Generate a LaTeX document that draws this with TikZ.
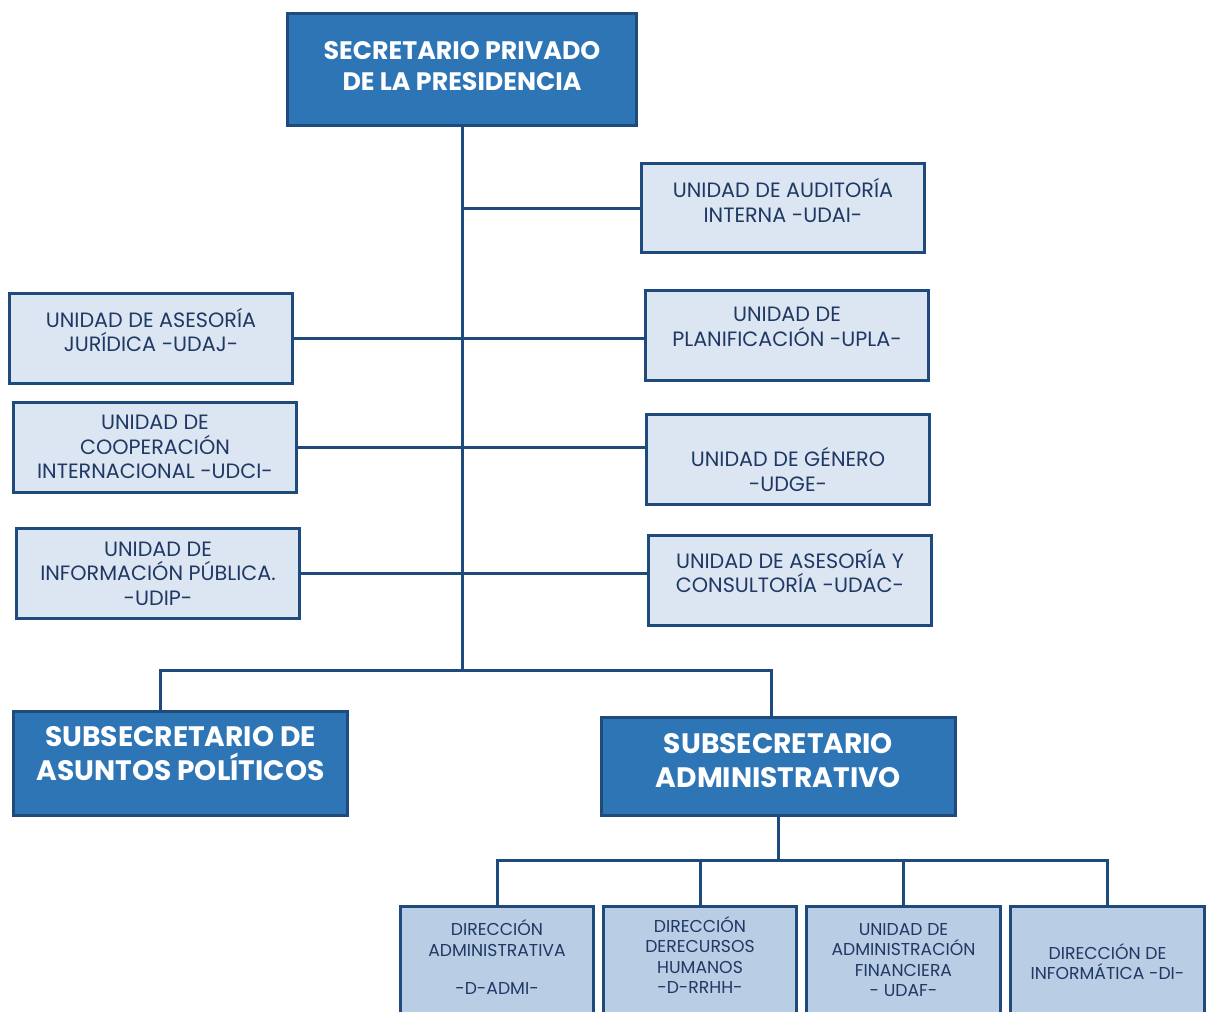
\documentclass[tikz,border=0pt]{standalone}
\usepackage{fontspec}
\setmainfont{Poppins}
\usepackage{xcolor}
\usepackage{tikz}

\definecolor{azulfuerte}{HTML}{2E75B6}
\definecolor{azulborde}{HTML}{1F4A7C}
\definecolor{azulclaro}{HTML}{DCE6F2}
\definecolor{azulmedio}{HTML}{B9CDE5}
\definecolor{textoazul}{HTML}{1F3864}

\tikzset{
	linea/.style={draw=azulborde, line width=0.06cm},
	jefe/.style={draw=azulborde, fill=azulfuerte, line width=0.06cm, inner sep=0pt},
	unidad/.style={draw=azulborde, fill=azulclaro, line width=0.06cm, minimum width=5.68cm, minimum height=1.8cm, inner sep=0pt},
	direccion/.style={draw=azulborde, fill=azulmedio, line width=0.06cm, minimum width=3.88cm, minimum height=2.6cm, inner sep=0pt},
	txtjefe/.style={text=white, align=center, font=\bfseries\fontsize{16}{19.3}\selectfont},
	txtunidad/.style={text=textoazul, align=center, font=\fontsize{11.8}{13.9}\selectfont},
	txtdir/.style={text=textoazul, align=center, font=\fontsize{9.8}{11.5}\selectfont}
}

\begin{document}
\begin{tikzpicture}[x=0.02cm, y=-0.02cm]
\useasboundingbox (0,0) rectangle (1209,1011);

% cabeza
\node[jefe, minimum width=6.98cm, minimum height=2.26cm,
	label={[txtjefe, font=\bfseries\fontsize{14.4}{17.6}\selectfont, yshift=0.06cm]center:{SECRETARIO PRIVADO\\DE LA PRESIDENCIA}}] (secretario) at (462,69.5) {};

% unidades de apoyo
\node[unidad, label={[txtunidad, yshift=0.15cm]center:{UNIDAD DE AUDITORÍA\\INTERNA -UDAI-}}] (udai) at (783,208) {};
\node[unidad, label={[txtunidad, yshift=0.17cm]center:{UNIDAD DE ASESORÍA\\JURÍDICA -UDAJ-}}] (udaj) at (151,338.5) {};
\node[unidad, label={[txtunidad, yshift=0.17cm]center:{UNIDAD DE\\PLANIFICACIÓN -UPLA-}}] (upla) at (787,335.5) {};
\node[unidad, label={[txtunidad]center:{UNIDAD DE\\COOPERACIÓN\\INTERNACIONAL -UDCI-}}] (udci) at (155,447) {};
\node[unidad, label={[txtunidad, yshift=-0.21cm]center:{UNIDAD DE GÉNERO\\-UDGE-}}] (udge) at (788,459) {};
\node[unidad, label={[txtunidad]center:{UNIDAD DE\\INFORMACIÓN PÚBLICA.\\-UDIP-}}] (udip) at (158,573.5) {};
\node[unidad, label={[txtunidad, yshift=0.18cm]center:{UNIDAD DE ASESORÍA Y\\CONSULTORÍA -UDAC-}}] (udac) at (790,580) {};

% subsecretarios
\node[jefe, minimum width=6.7cm, minimum height=2.08cm,
	label={[txtjefe, yshift=0.19cm]center:{SUBSECRETARIO DE\\ASUNTOS POLÍTICOS}}] (politicos) at (180.5,763) {};
\node[jefe, minimum width=7.1cm, minimum height=1.96cm,
	label={[txtjefe, yshift=0.11cm]center:{SUBSECRETARIO\\ADMINISTRATIVO}}] (administrativo) at (778.5,766) {};

% direcciones
\node[direccion, label={[txtdir, yshift=0.28cm]center:{DIRECCIÓN\\ADMINISTRATIVA\\[0.36cm]-D-ADMI-}}] (dadmi) at (497,971) {};
\node[direccion, label={[txtdir, yshift=0.32cm]center:{DIRECCIÓN\\DERECURSOS\\HUMANOS\\-D-RRHH-}}] (drrhh) at (700,971) {};
\node[direccion, label={[txtdir, yshift=0.22cm]center:{UNIDAD DE\\ADMINISTRACIÓN\\FINANCIERA\\- UDAF-}}] (udaf) at (903.5,971) {};
\node[direccion, label={[txtdir, yshift=0.19cm]center:{DIRECCIÓN DE\\INFORMÁTICA -DI-}}] (dinfo) at (1107.5,971) {};

% lineas
\coordinate (ramal) at (463,670);
\coordinate (reparto) at (780,860);
\draw[linea] (secretario.south) -- (secretario.south |- ramal);
\draw[linea] (secretario.south |- udai.west) -- (udai.west);
\draw[linea] (udaj.east) -- (udaj.east -| upla.west);
\draw[linea] (udci.east) -- (udci.east -| udge.west);
\draw[linea] (udip.east) -- (udip.east -| udac.west);
\draw[linea] ([xshift=-0.4cm]politicos.north) |- (ramal) -| ([xshift=-0.15cm]administrativo.north);

\draw[linea] (administrativo.south) -- (administrativo.south |- reparto);
\draw[linea] (dadmi.north) |- (reparto) -| (dinfo.north);
\draw[linea] (drrhh.north) -- (drrhh.north |- reparto);
\draw[linea] (udaf.north) -- (udaf.north |- reparto);

\end{tikzpicture}
\end{document}
